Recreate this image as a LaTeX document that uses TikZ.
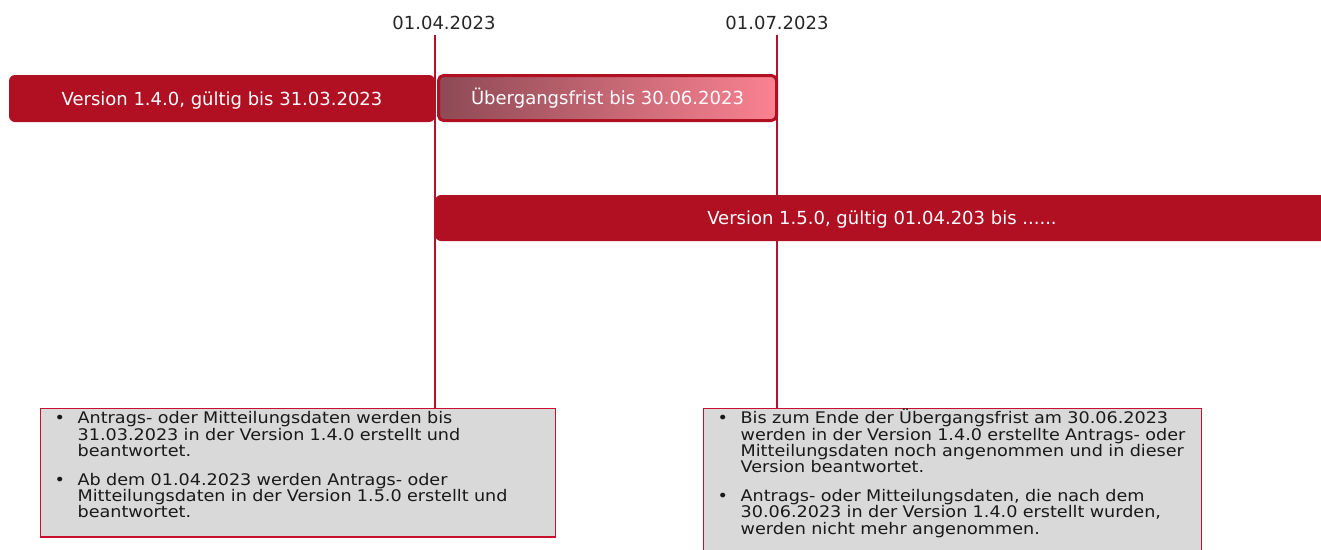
\documentclass[tikz,border=0pt]{standalone}
\usepackage{fontspec}
\setmainfont{DejaVu Sans}
\newfontfamily\notefont[FakeStretch=1.1]{DejaVu Sans}
\usetikzlibrary{backgrounds}

\definecolor{vrot}{RGB}{176,16,34}
\definecolor{rahmenrot}{RGB}{200,16,46}
\definecolor{linienrot}{RGB}{180,18,42}
\definecolor{fristlinks}{RGB}{142,74,85}
\definecolor{fristrechts}{RGB}{250,130,145}
\definecolor{kastengrau}{RGB}{217,217,217}

% one bullet point of a note box
\newcommand{\punkt}[1]{\noindent\makebox[23pt][l]{\textbullet}%
  \parbox[t]{458pt}{\raggedright #1}\par}

\begin{document}
\begin{tikzpicture}[x=1pt, y=-1pt,
  balken/.style={fill=vrot, text=white, rounded corners=6pt, inner sep=0pt,
    minimum height=47pt, text height=13pt, text depth=0pt,
    font=\fontsize{18}{20}\selectfont},
  datum/.style={text=black!85, inner xsep=0pt, inner ysep=5pt,
    text height=13pt, text depth=0pt, font=\fontsize{18}{20}\selectfont},
  kasten/.style={draw=rahmenrot, line width=1.3pt, fill=kastengrau, text=black!90,
    anchor=north west, inner xsep=2pt, inner ysep=3pt, align=left,
    font=\notefont\fontsize{16}{16.3}\selectfont},
  grenze/.style={draw=linienrot, line width=1.5pt}]
  \useasboundingbox (0,0) rectangle (1321,549);
  \clip (0,0) rectangle (1321,549);

  % dates on top
  \node[datum] (d1) at (444,23) {01.04.2023};
  \node[datum] (d2) at (777,23) {01.07.2023};

  % version bars
  \node[balken, minimum width=426pt] (v140) at (222,98.5)
    {Version 1.4.0, gültig bis 31.03.2023};
  \node[balken, left color=fristlinks, right color=fristrechts, draw=vrot,
    line width=3pt, rounded corners=5pt, minimum width=338pt,
    minimum height=45pt] (frist) at (607.5,98)
    {Übergangsfrist bis 30.06.2023};
  \node[balken, minimum width=894pt, minimum height=46pt] (v150) at (882,218)
    {Version 1.5.0, gültig 01.04.203 bis ......};

  % notes below
  \node[kasten, text width=511pt] (note1) at (40,408) {\leftskip=12pt
    \punkt{Antrags- oder Mitteilungsdaten werden bis\\
      31.03.2023 in der Version 1.4.0 erstellt und\\
      beantwortet.}
    \vspace{15.5pt}
    \punkt{Ab dem 01.04.2023 werden Antrags- oder\\
      Mitteilungsdaten in der Version 1.5.0 erstellt und\\
      beantwortet.\rule[-16pt]{0pt}{16pt}}};
  \node[kasten, text width=494pt] (note2) at (703,408) {\leftskip=12pt
    \punkt{Bis zum Ende der \smash{Ü}bergangsfrist am 30.06.2023\\
      werden in der Version 1.4.0 erstellte Antrags- oder\\
      Mitteilungsdaten noch angenommen und in dieser\\
      Version beantwortet.}
    \vspace{15.5pt}
    \punkt{Antrags- oder Mitteilungsdaten, die nach dem\\
      30.06.2023 in der Version 1.4.0 erstellt wurden,\\
      werden nicht mehr angenommen.\rule[-30pt]{0pt}{30pt}}};

  % date lines behind the bars
  \begin{scope}[on background layer]
    \draw[grenze] (d1.south -| v140.east) -- (note1.north -| v140.east);
    \draw[grenze] (d2.south) -- (d2.south |- note2.north);
  \end{scope}
\end{tikzpicture}
\end{document}
